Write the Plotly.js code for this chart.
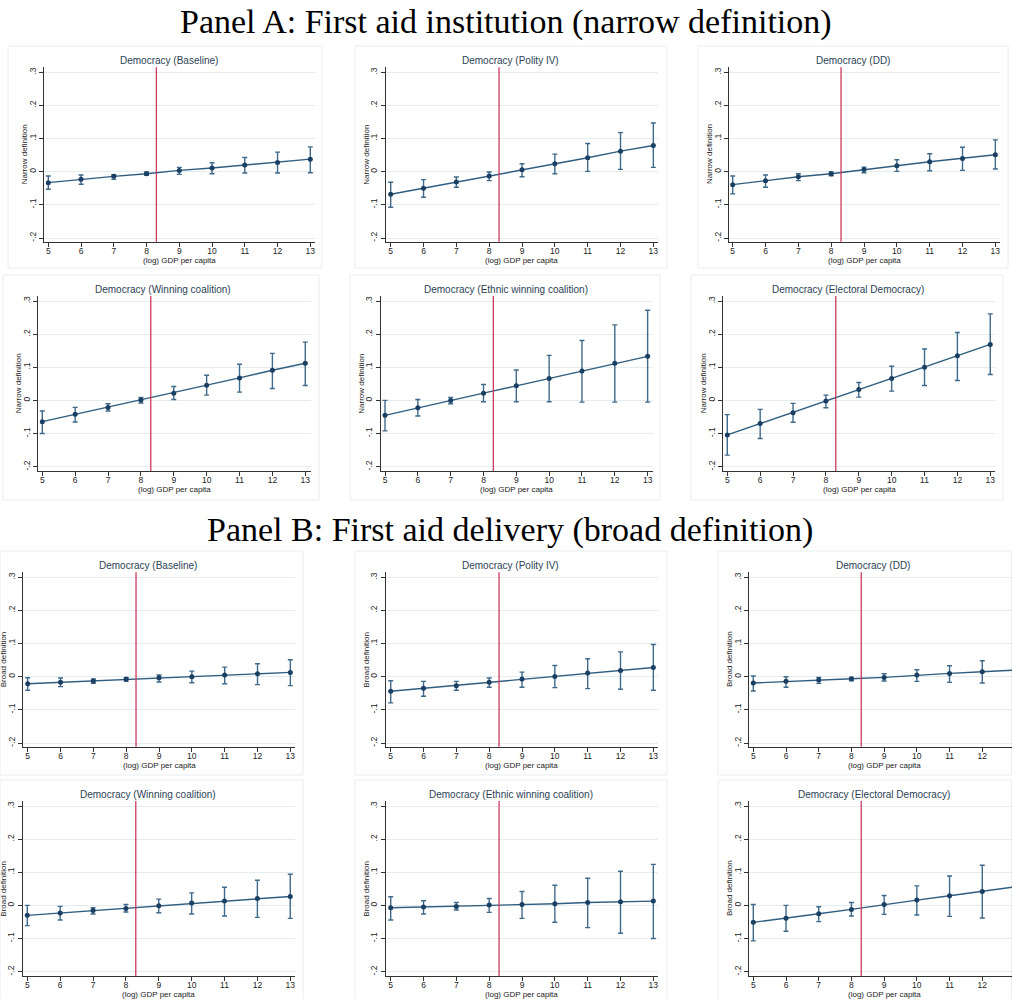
<!DOCTYPE html>
<html>
<head>
<meta charset="utf-8">
<script src="https://cdn.plot.ly/plotly-3.0.1.min.js"></script>
<style>html,body{margin:0;padding:0;background:#fff;}#chart{width:1012px;height:999px;}</style>
</head>
<body>
<div id="chart"></div>
<script>
// ---------------- DATA ----------------
const gdp = [5, 6, 7, 8, 9, 10, 11, 12, 13];
const xTickLabels = ['5','6','7','8','9','10','11','12','13'];
const yTickVals = [-0.2, -0.1, 0, 0.1, 0.2, 0.3];
const yTickLabels = ['-.2', '-.1', '0', '.1', '.2', '.3'];
const threshold = 8.3;

const panelTitles = ['Panel A: First aid institution (narrow definition)', 'Panel B: First aid delivery (broad definition)'];
const subTitles = ['Democracy (Baseline)', 'Democracy (Polity IV)', 'Democracy (DD)',
  'Democracy (Winning coalition)', 'Democracy (Ethnic winning coalition)', 'Democracy (Electoral Democracy)'];
const yTitles = ['Narrow definition', 'Broad definition'];
const xTitle = '(log) GDP per capita';

// Panel A (narrow definition)
const A_baseline_est = [-0.033, -0.023, -0.014, -0.006, 0.004, 0.011, 0.020, 0.028, 0.038];
const A_baseline_lo  = [-0.053, -0.038, -0.023, -0.011, -0.008, -0.006, -0.004, -0.004, -0.003];
const A_baseline_hi  = [-0.013, -0.010, -0.009, -0.001, 0.013, 0.027, 0.043, 0.059, 0.075];

const A_polity_est = [-0.068, -0.050, -0.031, -0.013, 0.006, 0.024, 0.042, 0.062, 0.079];
const A_polity_lo  = [-0.107, -0.077, -0.047, -0.027, -0.015, -0.006, 0.001, 0.007, 0.013];
const A_polity_hi  = [-0.032, -0.024, -0.016, -0.001, 0.024, 0.053, 0.085, 0.118, 0.147];

const A_dd_est = [-0.039, -0.027, -0.015, -0.006, 0.007, 0.018, 0.030, 0.040, 0.051];
const A_dd_lo  = [-0.067, -0.047, -0.027, -0.012, -0.003, 0.001, 0.003, 0.004, 0.008];
const A_dd_hi  = [-0.013, -0.010, -0.006, -0.001, 0.014, 0.036, 0.054, 0.074, 0.096];

const A_win_est = [-0.064, -0.042, -0.021, 0.001, 0.022, 0.046, 0.068, 0.091, 0.112];
const A_win_lo  = [-0.100, -0.065, -0.032, -0.008, 0.003, 0.016, 0.025, 0.036, 0.045];
const A_win_hi  = [-0.032, -0.021, -0.010, 0.009, 0.042, 0.076, 0.109, 0.142, 0.176];

const A_ethnic_est = [-0.045, -0.022, 0.000, 0.022, 0.044, 0.066, 0.089, 0.112, 0.133];
const A_ethnic_lo  = [-0.092, -0.047, -0.010, -0.004, -0.004, -0.004, -0.005, -0.005, -0.005];
const A_ethnic_hi  = [0.000, 0.003, 0.009, 0.048, 0.092, 0.136, 0.181, 0.228, 0.272];

const A_elect_est = [-0.104, -0.070, -0.037, -0.002, 0.033, 0.066, 0.100, 0.135, 0.169];
const A_elect_lo  = [-0.165, -0.115, -0.066, -0.022, 0.010, 0.028, 0.045, 0.060, 0.078];
const A_elect_hi  = [-0.043, -0.027, -0.009, 0.016, 0.054, 0.103, 0.155, 0.205, 0.261];

// Panel B (broad definition)
const B_baseline_est = [-0.021, -0.017, -0.013, -0.007, -0.003, 0.000, 0.005, 0.009, 0.013];
const B_baseline_lo  = [-0.041, -0.030, -0.020, -0.014, -0.016, -0.018, -0.021, -0.024, -0.027];
const B_baseline_hi  = [-0.003, -0.004, -0.007, -0.003, 0.005, 0.017, 0.029, 0.039, 0.051];

const B_polity_est = [-0.044, -0.035, -0.027, -0.017, -0.007, 0.001, 0.011, 0.019, 0.028];
const B_polity_lo  = [-0.079, -0.059, -0.041, -0.032, -0.032, -0.033, -0.036, -0.038, -0.041];
const B_polity_hi  = [-0.012, -0.014, -0.014, -0.004, 0.014, 0.034, 0.054, 0.075, 0.097];

const B_dd_est = [-0.019, -0.014, -0.010, -0.006, -0.002, 0.005, 0.010, 0.015, 0.020];
const B_dd_lo  = [-0.043, -0.032, -0.020, -0.012, -0.013, -0.014, -0.017, -0.019, -0.022];
const B_dd_hi  = [0.002, 0.000, -0.002, -0.002, 0.009, 0.021, 0.033, 0.048, 0.063];

const B_win_est = [-0.030, -0.023, -0.015, -0.009, -0.001, 0.007, 0.013, 0.021, 0.027];
const B_win_lo  = [-0.061, -0.044, -0.026, -0.020, -0.022, -0.026, -0.032, -0.036, -0.039];
const B_win_hi  = [0.000, -0.003, -0.007, 0.003, 0.019, 0.038, 0.055, 0.076, 0.094];

const B_ethnic_est = [-0.007, -0.005, -0.003, 0.001, 0.003, 0.005, 0.009, 0.011, 0.013];
const B_ethnic_lo  = [-0.044, -0.026, -0.014, -0.021, -0.039, -0.051, -0.067, -0.084, -0.100];
const B_ethnic_hi  = [0.026, 0.014, 0.009, 0.021, 0.042, 0.061, 0.082, 0.103, 0.124];

const B_elect_est = [-0.051, -0.039, -0.025, -0.012, 0.003, 0.016, 0.029, 0.042, 0.056];
const B_elect_lo  = [-0.107, -0.078, -0.049, -0.032, -0.027, -0.029, -0.033, -0.038, -0.042];
const B_elect_hi  = [0.003, 0.000, -0.004, 0.009, 0.030, 0.059, 0.089, 0.121, 0.150];

const series = [
  [A_baseline_est, A_baseline_lo, A_baseline_hi], [A_polity_est, A_polity_lo, A_polity_hi], [A_dd_est, A_dd_lo, A_dd_hi],
  [A_win_est, A_win_lo, A_win_hi], [A_ethnic_est, A_ethnic_lo, A_ethnic_hi], [A_elect_est, A_elect_lo, A_elect_hi],
  [B_baseline_est, B_baseline_lo, B_baseline_hi], [B_polity_est, B_polity_lo, B_polity_hi], [B_dd_est, B_dd_lo, B_dd_hi],
  [B_win_est, B_win_lo, B_win_hi], [B_ethnic_est, B_ethnic_lo, B_ethnic_hi], [B_elect_est, B_elect_lo, B_elect_hi]
];

// ---------------- LAYOUT GEOMETRY (pixels) ----------------
const W = 1012, H = 999;
const geo = [
  {L:44.3, R:315, T:67.3, B:241.7, x5:48.3, ux:32.75, y3:72.3, ym2:238, tx:168.7, ty:61, f:[8,46,322,268]},
  {L:385.7, R:658, T:67.3, B:241.7, x5:390.7, ux:32.83, y3:72.3, ym2:238, tx:511, ty:61, f:[355,46,667,268]},
  {L:729, R:1000, T:67.3, B:241.7, x5:732.7, ux:32.83, y3:72.3, ym2:238, tx:852.7, ty:61, f:[698,46,1008,268]},
  {L:38.3, R:310.7, T:296, B:471, x5:42.3, ux:32.87, y3:301, ym2:466.7, tx:163, ty:289.3, f:[3,275,319,500]},
  {L:380.7, R:652.7, T:296, B:471, x5:385, ux:32.83, y3:301, ym2:466.7, tx:505.8, ty:289.3, f:[350,275,660,500]},
  {L:723.3, R:995, T:296, B:471, x5:727.3, ux:32.87, y3:301, ym2:466.7, tx:848.2, ty:289.3, f:[691,275,1003,500]},
  {L:23.3, R:295, T:572.3, B:746.7, x5:27.7, ux:32.83, y3:577.3, ym2:743, tx:147.8, ty:565.7, f:[0,551,303,775]},
  {L:385.7, R:658, T:572.3, B:746.7, x5:390.7, ux:32.83, y3:577.3, ym2:743, tx:511, ty:565.7, f:[355,551,667,775]},
  {L:749, R:1020, T:572.3, B:746.7, x5:753.3, ux:32.71, y3:577.3, ym2:743, tx:873.3, ty:565.7, f:[718,551,1015,775]},
  {L:22.7, R:295, T:801, B:976, x5:27.3, ux:32.87, y3:806, ym2:971.7, tx:148, ty:794.3, f:[0,780,303,1002]},
  {L:385.7, R:658, T:801, B:976, x5:390.7, ux:32.83, y3:806, ym2:971.7, tx:511.2, ty:794.3, f:[355,780,667,1002]},
  {L:749, R:1020, T:801, B:976, x5:753.3, ux:32.71, y3:806, ym2:971.7, tx:873.8, ty:794.3, f:[718,780,1015,1002]}
];

const navy = '#1a3f63';
const lineCol = '#2f5d80';
const errCol = '#3f6a8b';
const redCol = '#cc3a5c';
const gridCol = '#e4ecef';
const frameCol = '#e6eef2';
const axisCol = '#333333';
const font = 'Arial, "Liberation Sans", sans-serif';

const traces = [];
const layout = {
  width: W, height: H,
  margin: {l:0, r:0, t:0, b:0},
  paper_bgcolor: '#ffffff', plot_bgcolor: '#ffffff',
  showlegend: false,
  font: {family: font, size: 9, color: '#222'},
  shapes: [], annotations: []
};

geo.forEach((g, i) => {
  const n = i + 1;
  const xa = n === 1 ? 'xaxis' : 'xaxis' + n;
  const ya = n === 1 ? 'yaxis' : 'yaxis' + n;
  const xr = n === 1 ? 'x' : 'x' + n;
  const yr = n === 1 ? 'y' : 'y' + n;
  const [est, lo, hi] = series[i];
  const Rclip = Math.min(g.R, W);
  const x0 = 5 + (g.L - g.x5) / g.ux;
  const x1 = 5 + (Rclip - g.x5) / g.ux;
  const yu = (g.ym2 - g.y3) / 0.5;
  const y0 = -0.2 - (g.B - g.ym2) / yu;
  const y1 = 0.3 + (g.y3 - g.T) / yu;

  layout.shapes.push({type:'rect', xref:'paper', yref:'paper', layer:'below',
    x0: g.f[0]/W, x1: Math.min(g.f[2], W-0.5)/W, y0: 1 - g.f[3]/H, y1: 1 - g.f[1]/H,
    line:{color: frameCol, width:1}, fillcolor:'rgba(0,0,0,0)'});

  layout[xa] = {
    domain: [g.L / W, Rclip / W], range: [x0, x1], anchor: yr,
    tickvals: gdp, ticktext: xTickLabels, ticks: 'outside', ticklen: 4, tickcolor: axisCol,
    ticklabelstandoff: -3,
    showline: true, linecolor: axisCol, linewidth: 1, showgrid: false, zeroline: false,
    tickfont: {family: font, size: 8.5, color: '#222'}, fixedrange: true
  };
  layout[ya] = {
    domain: [1 - g.B / H, 1 - g.T / H], range: [y0, y1], anchor: xr,
    tickvals: yTickVals, ticktext: yTickLabels, tickangle: -90, ticks: 'outside', ticklen: 4, tickcolor: axisCol,
    showline: true, linecolor: axisCol, linewidth: 1, showgrid: true, gridcolor: gridCol, gridwidth: 1,
    zeroline: false, tickfont: {family: font, size: 8.5, color: '#222'}, fixedrange: true
  };

  layout.shapes.push({type:'line', xref: xr, yref: yr + ' domain', x0: threshold, x1: threshold, y0: 0, y1: 1,
    line:{color: redCol, width: 1.3}});

  traces.push({
    type:'scatter', mode:'lines+markers', x: gdp, y: est, xaxis: xr, yaxis: yr,
    line:{color: lineCol, width: 1.4},
    marker:{color: navy, size: 5, symbol:'circle'},
    error_y:{type:'data', symmetric:false,
      array: hi.map((h, k) => h - est[k]), arrayminus: lo.map((l, k) => est[k] - l),
      color: errCol, thickness: 1.4, width: 2.5},
    hoverinfo:'x+y'
  });

  const panel = i < 6 ? 0 : 1;
  layout.annotations.push({xref:'paper', yref:'paper', x: g.tx / W, y: 1 - g.ty / H,
    xanchor:'center', yanchor:'middle', showarrow:false, text: subTitles[i % 6],
    font:{family: font, size: 10, color:'#2b3f55'}});
  layout.annotations.push({xref:'paper', yref:'paper', x: ((g.L + g.R) / 2) / W, y: 1 - (g.B + 18.5) / H,
    xanchor:'center', yanchor:'middle', showarrow:false, text: xTitle,
    font:{family: font, size: 8, color:'#222'}});
  layout.annotations.push({xref:'paper', yref:'paper', x: (g.L - 19.5) / W, y: 1 - ((g.T + g.B) / 2) / H,
    xanchor:'center', yanchor:'middle', showarrow:false, textangle: -90, text: yTitles[panel],
    font:{family: font, size: 8, color:'#222'}});
});

layout.annotations.push({xref:'paper', yref:'paper', x: 506 / W, y: 1 - 22 / H, xanchor:'center', yanchor:'middle',
  showarrow:false, text: panelTitles[0], font:{family:'"Liberation Serif", "DejaVu Serif", serif', size: 34, color:'#000'}});
layout.annotations.push({xref:'paper', yref:'paper', x: 510 / W, y: 1 - 530 / H, xanchor:'center', yanchor:'middle',
  showarrow:false, text: panelTitles[1], font:{family:'"Liberation Serif", "DejaVu Serif", serif', size: 34, color:'#000'}});

Plotly.newPlot('chart', traces, layout, {staticPlot: true, displayModeBar: false});
</script>
</body>
</html>
